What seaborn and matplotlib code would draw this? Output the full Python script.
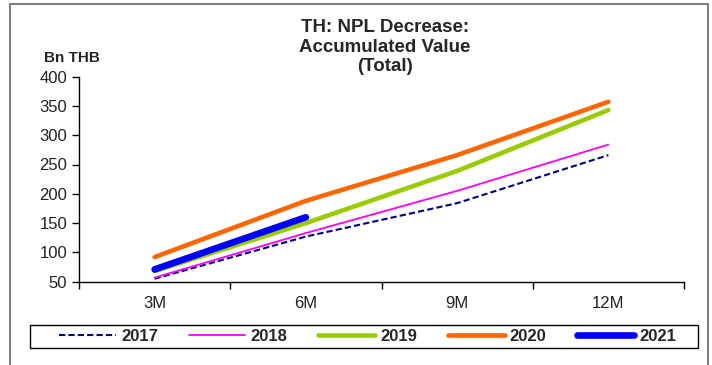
import numpy as np
import pandas as pd
import seaborn as sns
import matplotlib
matplotlib.use("Agg")
import matplotlib.pyplot as plt
from matplotlib.patches import Rectangle

# Accumulated NPL decrease, Bn THB
periods = ["3M", "6M", "9M", "12M"]
v2017 = [55, 127, 184, 266]
v2018 = [57, 133, 205, 284]
v2019 = [68, 150, 239, 343]
v2020 = [92, 188, 266, 357]
v2021 = [71, 160, np.nan, np.nan]

years = ["2017", "2018", "2019", "2020", "2021"]
values = [v2017, v2018, v2019, v2020, v2021]
colors = ["#000080", "#FF00FF", "#99CC00", "#FF6600", "#0000FF"]
widths = [1.5, 1.3, 3.3, 3.3, 4.8]
dashes = [(3, 1.5), None, None, None, None]

sns.set_theme(style="white")
plt.rcParams["font.family"] = ["Liberation Sans", "DejaVu Sans"]

W, H = 712, 365
fig = plt.figure(figsize=(W / 100, H / 100), dpi=100)
ax = fig.add_axes([79 / W, 1 - 281.7 / H, (684 - 79) / W, (281.7 - 76.6) / H])

pos = np.arange(len(periods))
for yr, vals, c, lw, ds in zip(years, values, colors, widths, dashes):
    df = pd.DataFrame({"pos": pos, "val": vals}).dropna()
    kw = dict(color=c, linewidth=lw, label=yr, ax=ax, solid_capstyle="round")
    if ds is not None:
        kw["dashes"] = ds
    sns.lineplot(data=df, x="pos", y="val", **kw)

ax.set_xlim(-0.5, len(periods) - 0.5)
ax.set_ylim(50, 400)
ax.set_yticks(np.arange(50, 401, 50))
ax.set_xticks(pos)
ax.set_xticklabels(periods)
ax.set_xticks(np.arange(-0.5, len(periods)), minor=True)
ax.tick_params(axis="x", which="major", length=0, pad=10, labelsize=12, colors="#222222")
ax.tick_params(axis="x", which="minor", length=5, width=1, color="black", direction="out", bottom=True)
ax.tick_params(axis="y", length=5, width=1, color="black", direction="out", left=True,
               labelsize=12, labelcolor="#222222")
ax.set_xlabel("")
ax.set_ylabel("")
for s in ["top", "right"]:
    ax.spines[s].set_visible(False)
for s in ["left", "bottom"]:
    ax.spines[s].set_color("black")
    ax.spines[s].set_linewidth(1)

fig.text(385 / W, 1 - 19 / H, "TH: NPL Decrease:\nAccumulated Value\n(Total)", ha="center", va="top",
         fontsize=13.5, fontweight="bold", linespacing=1.2)
fig.text(71.5 / W, 1 - 62 / H, "Bn THB", ha="center", va="baseline", fontsize=11, fontweight="bold")

handles, labels = ax.get_legend_handles_labels()
if ax.legend_:
    ax.legend_.remove()
leg = fig.legend(handles, labels, loc="center", bbox_to_anchor=(367.5 / W, 1 - 336.5 / H),
                 ncol=5, frameon=False, borderaxespad=0, borderpad=0,
                 handlelength=3.4, handletextpad=0.3, columnspacing=1.86,
                 prop={"weight": "bold", "size": 12})

# legend box
fig.patches.append(Rectangle((30 / W, 1 - 348 / H), 668 / W, 23 / H, transform=fig.transFigure,
                             fill=False, edgecolor="black", linewidth=1, zorder=1))
# outer chart frame
fig.patches.append(Rectangle((10 / W, -0.05), 698 / W, 1 - 4 / H + 0.05,
                             transform=fig.transFigure, fill=False, edgecolor="#808080",
                             linewidth=1.5, zorder=0))

fig.savefig("out.png", dpi=100)
